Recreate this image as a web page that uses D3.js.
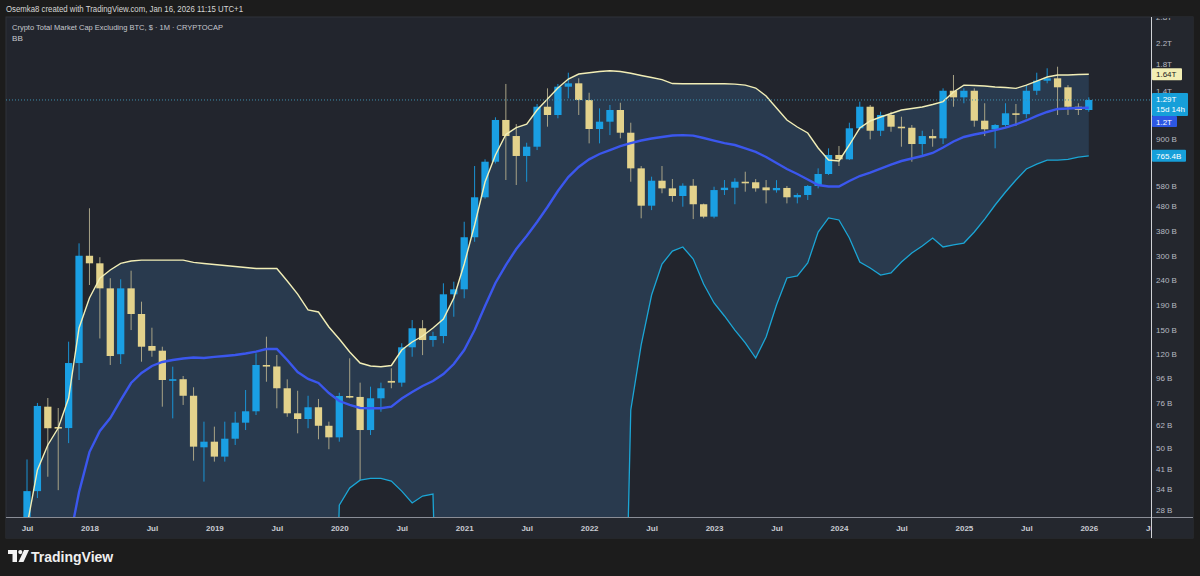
<!DOCTYPE html>
<html><head><meta charset="utf-8">
<script src="https://cdn.jsdelivr.net/npm/d3@7/dist/d3.min.js"></script>
<style>html,body{margin:0;padding:0;background:#1c1c1c;}svg{display:block;}text{font-family:"Liberation Sans",Arial,sans-serif;}</style>
</head><body>
<svg id="c" width="1200" height="576"></svg>
<script>
// ---------- DATA (values in billions USD) ----------
const months = [
"2017-07","2017-08","2017-09","2017-10","2017-11","2017-12",
"2018-01","2018-02","2018-03","2018-04","2018-05","2018-06","2018-07","2018-08","2018-09","2018-10","2018-11","2018-12",
"2019-01","2019-02","2019-03","2019-04","2019-05","2019-06","2019-07","2019-08","2019-09","2019-10","2019-11","2019-12",
"2020-01","2020-02","2020-03","2020-04","2020-05","2020-06","2020-07","2020-08","2020-09","2020-10","2020-11","2020-12",
"2021-01","2021-02","2021-03","2021-04","2021-05","2021-06","2021-07","2021-08","2021-09","2021-10","2021-11","2021-12",
"2022-01","2022-02","2022-03","2022-04","2022-05","2022-06","2022-07","2022-08","2022-09","2022-10","2022-11","2022-12",
"2023-01","2023-02","2023-03","2023-04","2023-05","2023-06","2023-07","2023-08","2023-09","2023-10","2023-11","2023-12",
"2024-01","2024-02","2024-03","2024-04","2024-05","2024-06","2024-07","2024-08","2024-09","2024-10","2024-11","2024-12",
"2025-01","2025-02","2025-03","2025-04","2025-05","2025-06","2025-07","2025-08","2025-09","2025-10","2025-11","2025-12",
"2026-01"];
const open = [25,33.4,73.5,60.8,60.2,110.5,301,280.5,222,120,
222,174.7,129.6,124,94,95,81.4,50.3,53,46.1,
54.5,63.3,70.4,108.5,107,87.3,69.1,65.5,73.1,61.5,
55.2,81.2,80.5,59.1,79.5,93.5,92,128,152.9,137,
142.2,210,220,357.8,519.7,724.6,1070,921,764.5,833.6,
1211,1121,1460,1507,1289,983.6,1053,1174.5,950,681,
480.5,606.8,565,526,579,487,433.7,556,568.4,601,
598,570,555,567,519.7,531,577.6,646,771.7,741,
990,1211,967.7,1121,1005,995,854.8,921,901.5,1406,
1322,1406,1063,981,1021,1139,1130,1406,1544,1579,
1452,1211,1174.5];
const high = [44.9,76.1,79.7,72.6,134.9,338,469,297,244,241.6,
261.8,196,153.7,128.7,106.8,97.9,88.1,63.9,61,63.9,
70.1,85.9,121,141.3,119.1,94.9,85.3,81.4,79,63.9,
83.7,115.5,92,88.6,92,105.2,132.9,165.1,165,148,
232.7,236.3,413.6,696,741,1097,1498,1030,865,1242,
1438,1498,1664,1579,1380,1193,1231,1257,1043,696,
630,696,616.6,592,616,490,573.7,610.7,620.6,660,
616,610.7,610,577.6,539.6,583,681,821,839,1043,
1270,1231,1156,1156,1103,1021,967.7,981,1438,1629,
1438,1438,1251,1030,1251,1242,1482,1664,1734,1760,
1482,1251,1322];
const low = [23,31.3,38.2,33.7,52.3,94.3,229,139,108.5,109.5,
150.4,111.9,117.2,73.5,65.9,74.7,44.4,36.5,44,44,
51.4,59.1,68,92.8,72.4,66.9,57.3,60.1,54.2,49.4,
53,79.5,37,56.4,70.1,87.3,88.6,117.2,119,128.7,
132.9,170.3,202.3,343,513,713,610.7,583,601,808,
1005,1087,1310,1121,860,860,929,901.5,601,427,
461,539.6,498.7,476,424,427,427,531,487,547.7,
547.7,491,542.7,491,491,506.8,565,640,696,736,
974,893,921,958.7,833.6,724.6,771.7,833.6,854.8,1211,
1251,1005,921,821,1005,1013,1087,1352,1507,1121,
1121,1121,1156];
const close = [33.4,74,60.1,60.2,110.5,301,280.5,222,118,222,
174.7,128.7,124,94.3,95,81.4,50.6,53,46.1,54.5,
63.3,70.4,108.5,107,87.3,69.1,65.5,73.1,61.5,55.2,
81.2,80.5,59.1,79.5,87.3,92,128,152.9,137,142.2,
210,220,357.8,519.7,724.6,1070,921,764.5,833.6,1211,
1121,1460,1507,1289,983.6,1053,1174.5,950,681,480.5,
606.8,565,526,579,487,433.7,556,568.4,601,598,
565,555,567,519.7,531,577.6,646,771.7,741,990,
1211,967.7,1121,1005,995,854.8,921,901.5,1406,1322,
1406,1063,981,1021,1139,1130,1406,1544,1579,1452,
1211,1174.5,1290];
const bbUpper = [24.1,40.7,51.4,60.2,79.7,153.3,202.8,244,263.5,280.5,
286.6,289,289,289,289,289,283,280,277.4,274.8,
272.2,269.7,267.2,267.2,267.2,237.7,210.5,181.4,178,154.7,
138.3,122.5,110.5,107.5,106.8,108,124.8,134.5,142.2,153.3,
166.7,202.8,278.7,401.3,599.6,771.7,934,997,1030,1174.5,
1301,1442,1569,1644,1664,1683,1695,1683,1655,1621,
1591,1560,1504,1500,1500,1500,1500,1500,1495,1482,
1442,1338,1197,1070,1002,947.6,823.8,736,729.4,847,
992.6,1060,1100,1137,1174.5,1191,1208,1236.5,1271,1390,
1482,1476,1470,1456,1450,1437,1482,1539,1598,1629,
1629,1636,1640];
const bbBasis = [8,10,13,16,20.2,33.1,48.1,58.6,66.1,78.2,
91.7,100.7,107.5,111.6,113.7,115.3,116.4,115.8,117,118,
119.1,120.8,123,126,126,113.7,101.6,95.2,91.7,83.5,
77.5,74.7,72.6,72.4,72.4,73.5,79.3,84.3,89.2,93.4,
99.7,109.5,124.8,150.4,188.3,233.4,276,320.6,362,412.7,
474.6,551,628,689.6,741,778.7,808,839,862.5,883,
900,912.7,925,929,925,904,883,862.5,847,820,
793.6,757,716,676.8,646,613.7,583,574.8,574.8,605,
634,655,680,705.7,729.4,746.8,764.5,786,827.5,875,
912.7,934,952,974,997,1026,1065,1111,1153,1186,
1191,1197,1200];
// lower band: 1 = far below the visible scale (off chart)
const bbLower = [1,1,1,1,1,1,1,1,1,1,
1,1,1,1,1,1,1,1,1,1,
1,1,1,1,1,1,1,1,1,1,
29.3,34.4,37,37.6,37.6,36.7,33.4,29.9,31.9,32.5,
1,1,1,1,1,1,1,1,1,1,
1,1,1,1,1,1,1,1,71.3,130.8,
208.6,278.7,314.5,326.8,292,231.2,193.7,171.5,150.4,133.3,
115.8,140.9,190,244.6,249.2,281.3,375.8,428.4,420.5,355.3,
283.9,268.5,251.4,256.3,283.9,308.8,329.8,355.3,326.8,333,
339,375.8,424,483.6,546,610.7,676.8,709,736,736,
741,757,765.4];
const priceTicks = [28,34,41,50,62,76,96,120,150,190,240,300,380,480,580,900,1400,1800,2200,2800];
const priceTickLabels = ["28 B","34 B","41 B","50 B","62 B","76 B","96 B","120 B","150 B","190 B","240 B","300 B","380 B","480 B","580 B","900 B","1.4T","1.8T","2.2T","2.8T"];
const timeTickIdx = [0,6,12,18,24,30,36,42,48,54,60,66,72,78,84,90,96,102,108];
const timeTickLabels = ["Jul","2018","Jul","2019","Jul","2020","Jul","2021","Jul","2022","Jul","2023","Jul","2024","Jul","2025","Jul","2026","Jul"];

// ---------- CHART ----------
const svg = d3.select("#c");
const P = {l:6, r:1151, t:17, b:517, paneR:1193, paneB:538};
const x = d3.scaleLinear().domain([0, months.length-1]).range([27, 1088.8]);
const y = d3.scaleLog().domain([28, 2800]).range([510, 17]);
const step = x(1)-x(0), bw = step*0.7;
const idx = d3.range(months.length);

svg.append("rect").attr("width",1200).attr("height",576).attr("fill","#1c1c1c");
svg.append("rect").attr("x",P.l).attr("y",P.t).attr("width",P.paneR-P.l).attr("height",P.paneB-P.t)
  .attr("fill","#22252d").attr("stroke","#2f323a");
svg.append("rect").attr("x",P.r).attr("y",P.t).attr("width",P.paneR-P.r).attr("height",P.paneB-P.t).attr("fill","#24272e");
svg.append("rect").attr("x",P.l).attr("y",P.b).attr("width",P.r-P.l).attr("height",P.paneB-P.b).attr("fill","#24272e");

const defs = svg.append("defs");
defs.append("clipPath").attr("id","plot").append("rect").attr("x",P.l).attr("y",P.t).attr("width",P.r-P.l).attr("height",P.b-P.t);
defs.append("clipPath").attr("id","taxis").append("rect").attr("x",P.l).attr("y",P.b).attr("width",P.r-P.l).attr("height",P.paneB-P.b);
defs.append("clipPath").attr("id","paxis").append("rect").attr("x",P.r).attr("y",P.t+1).attr("width",P.paneR-P.r).attr("height",P.b-P.t);

const g = svg.append("g").attr("clip-path","url(#plot)");
// BB fill
g.append("path").datum(idx)
  .attr("d", d3.area().x(i=>x(i)).y0(i=>y(bbLower[i])).y1(i=>y(bbUpper[i])))
  .attr("fill","#293a4e");
// candles
const up = i => close[i] >= open[i];
g.selectAll("line.wick").data(idx).join("line").attr("class","wick")
  .attr("x1",i=>x(i)).attr("x2",i=>x(i)).attr("y1",i=>y(high[i])).attr("y2",i=>y(low[i]))
  .attr("stroke",i=>up(i)?"#1a93d4":"#a8a386").attr("stroke-width",1);
g.selectAll("rect.body").data(idx).join("rect").attr("class","body")
  .attr("x",i=>x(i)-bw/2).attr("width",bw)
  .attr("y",i=>y(Math.max(open[i],close[i])))
  .attr("height",i=>Math.max(1.6, y(Math.min(open[i],close[i]))-y(Math.max(open[i],close[i]))))
  .attr("fill",i=>up(i)?"#1a9fe3":"#e3d28c");
// bands
const ln = arr => d3.line().x(i=>x(i)).y(i=>y(arr[i]));
g.append("path").datum(idx).attr("d",ln(bbLower)).attr("fill","none").attr("stroke","#1ba6d6").attr("stroke-width",1.3);
g.append("path").datum(idx).attr("d",ln(bbUpper)).attr("fill","none").attr("stroke","#f2eeb6").attr("stroke-width",1.4);
g.append("path").datum(idx).attr("d",ln(bbBasis)).attr("fill","none").attr("stroke","#3b57ee").attr("stroke-width",2.4);
// last price dotted line
g.append("line").attr("x1",P.l).attr("x2",P.r).attr("y1",y(close[close.length-1])).attr("y2",y(close[close.length-1]))
  .attr("stroke","#3f8fae").attr("stroke-width",1).attr("stroke-dasharray","1,2");

// axes
const pa = svg.append("g").attr("clip-path","url(#paxis)").append("g").attr("transform",`translate(${P.r},0)`)
  .call(d3.axisRight(y).tickValues(priceTicks).tickFormat((d,i)=>priceTickLabels[i]).tickSize(0).tickPadding(5));
pa.select(".domain").remove();
pa.selectAll("text").attr("fill","#b7bac2").attr("font-size",8).attr("font-family","'Liberation Sans',Arial,sans-serif");

const ta = svg.append("g").attr("clip-path","url(#taxis)").append("g").attr("transform",`translate(0,${P.b})`)
  .call(d3.axisBottom(x).tickValues(timeTickIdx).tickFormat((d,i)=>timeTickLabels[i]).tickSize(0).tickPadding(8));
ta.select(".domain").remove();
ta.selectAll("text").attr("fill","#c9ccd3").attr("font-size",8).attr("font-weight","bold").attr("font-family","'Liberation Sans',Arial,sans-serif");

svg.append("line").attr("x1",P.l).attr("x2",P.paneR).attr("y1",P.b+0.5).attr("y2",P.b+0.5).attr("stroke","#8a8d96");
svg.append("line").attr("x1",P.r+0.5).attr("x2",P.r+0.5).attr("y1",P.t).attr("y2",P.paneB).attr("stroke","#d0d2d6");

// price labels
function tag(yc, h, lines, fill, color, w){
  const gg = svg.append("g");
  gg.append("rect").attr("x",P.r+1).attr("y",yc).attr("width",w).attr("height",h).attr("rx",1).attr("fill",fill);
  lines.forEach((t,k)=>gg.append("text").attr("x",P.r+5).attr("y",yc+9+k*10).attr("font-size",8).attr("fill",color).text(t));
}
const yU = y(bbUpper[bbUpper.length-1]);
tag(yU-6, 12, [d3.format(".3~s")(bbUpper[bbUpper.length-1]/1000).replace("k","")+"T"], "#f2eeb4", "#1b1b1b", 30);
const yC = y(close[close.length-1]);
tag(yC-7, 23, ["1.29T","15d 14h"], "#169fd9", "#ffffff", 36);
tag(yC+16, 11, ["1.2T"], "#2c57e3", "#ffffff", 25);
const yL = y(bbLower[bbLower.length-1]);
tag(yL-6, 12, ["765.4B"], "#169fd9", "#ffffff", 34);

// header texts
svg.append("text").attr("x",6).attr("y",12).attr("font-size",8.3).attr("fill","#d6d6d6")
  .attr("textLength",237).attr("lengthAdjust","spacingAndGlyphs")
  .text("Osemka8 created with TradingView.com, Jan 16, 2026 11:15 UTC+1");
svg.append("text").attr("x",12).attr("y",29.5).attr("font-size",8.1).attr("fill","#c6c8ce")
  .attr("textLength",211).attr("lengthAdjust","spacingAndGlyphs")
  .text("Crypto Total Market Cap Excluding BTC, $ · 1M · CRYPTOCAP");
svg.append("text").attr("x",12).attr("y",41).attr("font-size",8.1).attr("fill","#c6c8ce").text("BB");

// TradingView logo
const lg = svg.append("g").attr("transform","translate(8,550)").attr("fill","#f2f2f2");
lg.append("path").attr("d","M0,0 H9 V12 H4.5 V4 H0 Z");
lg.append("circle").attr("cx",12.3).attr("cy",2.1).attr("r",2.1);
lg.append("path").attr("d","M16,0 H21 L15.5,12 H10.5 Z");
svg.append("text").attr("x",31).attr("y",562).attr("font-size",14).attr("font-weight",600)
  .attr("fill","#f0f0f0").attr("font-family","Inter,'Open Sans',sans-serif").text("TradingView");
</script>
</body></html>
